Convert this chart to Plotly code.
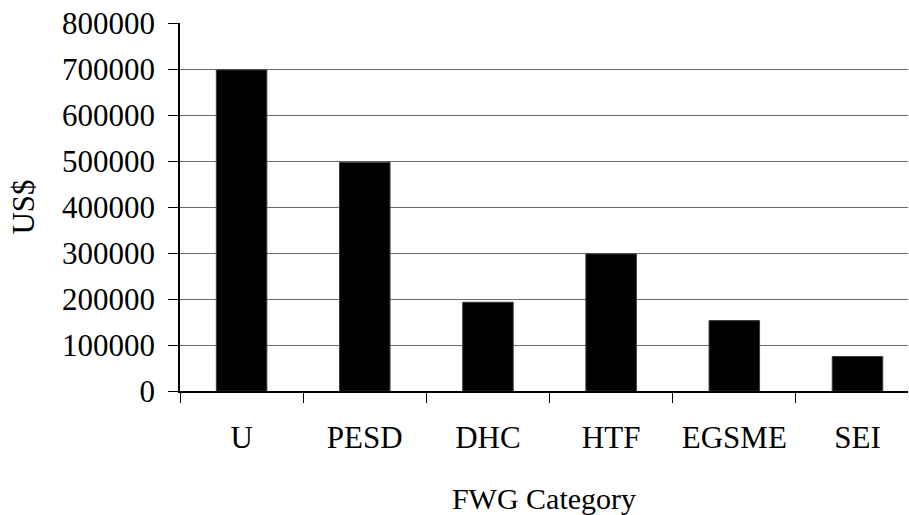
import plotly.graph_objects as go

# Funding per FWG category (US$)
categories = ["U", "PESD", "DHC", "HTF", "EGSME", "SEI"]
amounts = [698000, 497000, 193000, 298000, 153000, 75000]
y_ticks = [0, 100000, 200000, 300000, 400000, 500000, 600000, 700000, 800000]

SERIF = "'Times New Roman', 'Liberation Serif', 'DejaVu Serif', serif"

fig = go.Figure(
    go.Bar(
        x=categories,
        y=amounts,
        marker=dict(color="#000000", line=dict(color="#3a3a3a", width=1)),
        width=0.41,
    )
)

fig.update_layout(
    width=909,
    height=515,
    margin=dict(l=180, r=1, t=23, b=124, pad=0),
    paper_bgcolor="white",
    plot_bgcolor="white",
    showlegend=False,
    font=dict(family=SERIF, color="#000000"),
)

fig.update_xaxes(
    type="category",
    range=[-0.5, 5.41],
    tickson="boundaries",
    ticks="outside",
    ticklen=10,
    tickwidth=1,
    tickcolor="#000000",
    showline=True,
    linecolor="#000000",
    linewidth=1.5,
    showgrid=False,
    tickfont=dict(family=SERIF, size=31),
    ticklabelstandoff=18,
    title=dict(text="FWG Category", font=dict(family=SERIF, size=30), standoff=35),
    automargin=False,
)

fig.update_yaxes(
    range=[0, 800000],
    tickvals=y_ticks,
    ticktext=[str(v) for v in y_ticks],
    ticks="outside",
    ticklen=10,
    tickwidth=1,
    tickcolor="#000000",
    showline=True,
    linecolor="#000000",
    linewidth=1.5,
    showgrid=True,
    gridcolor="#6a6a6a",
    gridwidth=1,
    zeroline=False,
    tickfont=dict(family=SERIF, size=31),
    ticklabelstandoff=7,
    title=dict(text="US$", font=dict(family=SERIF, size=31), standoff=18),
    automargin=False,
)

fig.write_html("out.html")
